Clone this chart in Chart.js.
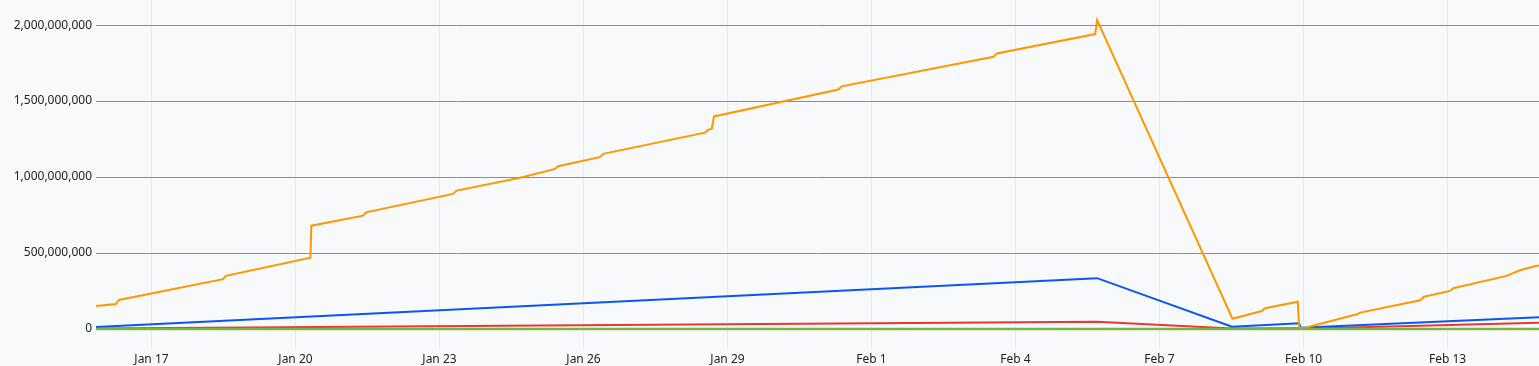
<!DOCTYPE html>
<html>
<head>
<meta charset="utf-8">
<script src="https://cdn.jsdelivr.net/npm/chart.js@4"></script>
<style>
  html, body { margin: 0; padding: 0; background: #f8f9fa; }
  #wrap { width: 1539px; height: 366px; position: relative; }
</style>
</head>
<body>
<div id="wrap"><canvas id="myChart"></canvas></div>
<script>
// x values are days counted from Jan 17 (0 = Jan 17 00:00)
var tickDays = [0, 3, 6, 9, 12, 15, 18, 21, 24, 27];
var tickLabels = ['Jan 17', 'Jan 20', 'Jan 23', 'Jan 26', 'Jan 29', 'Feb 1', 'Feb 4', 'Feb 7', 'Feb 10', 'Feb 13'];
var yTicks = [0, 500e6, 1000e6, 1500e6, 2000e6];

// orange series
var orangeDays = [-1.16, -0.74, -0.68, 1.49, 1.55, 3.31, 3.33, 4.41, 4.47, 6.28, 6.36, 7.68, 8.41, 8.47, 9.34, 9.41,
  11.53, 11.60, 11.67, 11.72, 14.31, 14.38, 17.54, 17.61, 19.66, 19.70,
  22.52, 23.13, 23.20, 23.88, 23.91, 24.00, 25.11, 25.18, 26.43, 26.51, 27.05, 27.12, 28.23, 28.51, 28.79, 28.91];
var orangeValues = [152e6, 165e6, 191e6, 328e6, 350e6, 469e6, 680e6, 746e6, 768e6, 889e6, 911e6, 995e6, 1054e6, 1071e6, 1131e6, 1153e6,
  1292e6, 1312e6, 1317e6, 1399e6, 1576e6, 1597e6, 1791e6, 1813e6, 1941e6, 2033e6,
  68e6, 119e6, 137e6, 180e6, 9e6, 5e6, 97e6, 108e6, 189e6, 213e6, 251e6, 269e6, 350e6, 387e6, 411e6, 418e6];

// blue series
var blueDays = [-1.16, 19.70, 22.51, 23.91, 23.94, 28.91];
var blueValues = [13e6, 335e6, 15e6, 38e6, 9e6, 78e6];

// red series
var redDays = [-1.16, 19.70, 22.51, 23.91, 23.94, 28.91];
var redValues = [3e6, 48e6, 3e6, 5e6, 2e6, 42e6];

// green series
var greenDays = [-1.16, 19.70, 22.51, 28.91];
var greenValues = [0, 0, 0, 0];

function toPoints(days, values) {
    return days.map(function (d, i) { return { x: d, y: values[i] }; });
}

Chart.defaults.font.family = '"Noto Sans", "Open Sans", sans-serif';
Chart.defaults.font.size = 12;
Chart.defaults.color = '#222';

var ctx = document.getElementById('myChart').getContext('2d');
var myChart = new Chart(ctx, {
    type: 'line',
    data: {
        datasets: [
            { label: 'Green', data: toPoints(greenDays, greenValues), borderColor: '#7cb342', borderWidth: 2.5 },
            { label: 'Orange', data: toPoints(orangeDays, orangeValues), borderColor: '#ff9800' },
            { label: 'Blue', data: toPoints(blueDays, blueValues), borderColor: '#0b55f5' },
            { label: 'Red', data: toPoints(redDays, redValues), borderColor: '#e53935' }
        ]
    },
    options: {
        responsive: true,
        maintainAspectRatio: false,
        animation: false,
        layout: { padding: 0 },
        elements: {
            point: { radius: 0 },
            line: { borderWidth: 2, tension: 0, fill: false }
        },
        plugins: {
            legend: { display: false },
            tooltip: { enabled: false }
        },
        scales: {
            x: {
                type: 'linear',
                min: -1.156,
                max: 28.906,
                border: { display: false },
                grid: { color: '#e8e8e8', drawTicks: true, tickLength: 8 },
                afterFit: function (scale) { scale.height = 26; },
                afterBuildTicks: function (scale) {
                    scale.ticks = tickDays.map(function (d) { return { value: d }; });
                },
                ticks: {
                    autoSkip: false,
                    maxRotation: 0,
                    padding: 4,
                    callback: function (value) {
                        var i = tickDays.indexOf(value);
                        return i >= 0 ? tickLabels[i] : '';
                    }
                }
            },
            y: {
                min: -72e6,
                max: 2165e6,
                border: { display: false },
                grid: { color: '#8c8c8c', drawTicks: false },
                afterFit: function (scale) {
                    scale.width = 96;
                    scale.paddingTop = 0;
                    scale.paddingBottom = 0;
                },
                afterBuildTicks: function (scale) {
                    scale.ticks = yTicks.map(function (v) { return { value: v }; });
                },
                ticks: {
                    padding: 4,
                    callback: function (value) {
                        return value.toLocaleString('en-US');
                    }
                }
            }
        }
    }
});
</script>
</body>
</html>
